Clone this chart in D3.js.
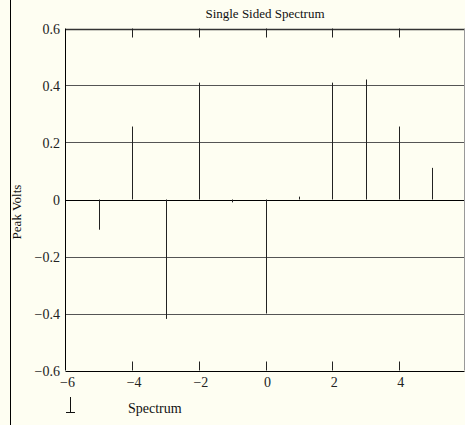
<!DOCTYPE html>
<html><head><meta charset="utf-8">
<script src="https://cdn.jsdelivr.net/npm/d3@7"></script>
<style>html,body{margin:0;padding:0;background:#fefef2;}svg{display:block;}</style>
</head><body>
<script>
const freqs = [-5, -4, -3, -2, -1, 0, 1, 2, 3, 4, 5];
const volts = [-0.106, 0.256, -0.419, 0.41, -0.01, -0.40, 0.01, 0.41, 0.421, 0.256, 0.111];
const xTicks = [-6, -4, -2, 0, 2, 4];
const yTicks = [-0.6, -0.4, -0.2, 0, 0.2, 0.4, 0.6];
const title = "Single Sided Spectrum";
const yLabel = "Peak Volts";
const legendLabel = "Spectrum";

const W = 465, H = 425;
const font = "Liberation Serif, DejaVu Serif, serif";
const svg = d3.select("body").append("svg").attr("width", W).attr("height", H);
svg.append("rect").attr("width", W).attr("height", H).attr("fill", "#fefef2");

const L = 65.5, R = 464.5, T = 28.5, B = 370.5;
const x = d3.scaleLinear().domain([-6, 6]).range([L, 465.5]);
const y = d3.scaleLinear().domain([-0.6, 0.6]).range([B, T]);
const fmt = v => (v < 0 ? "\u2212" : "") + (Math.abs(v) === 0 ? "0" : (Number.isInteger(v) ? Math.abs(v) : Math.abs(v).toFixed(1)));

// left frame line
svg.append("line").attr("x1", 10.5).attr("x2", 10.5).attr("y1", 0).attr("y2", H).attr("stroke", "#000");

// grid lines
svg.append("g").selectAll("line").data(yTicks).join("line")
  .attr("x1", L).attr("x2", R)
  .attr("y1", d => Math.round(y(d)) + 0.5).attr("y2", d => Math.round(y(d)) + 0.5)
  .attr("stroke", d => (d === 0 || d === -0.6) ? "#000" : (d === 0.6 ? "#333" : "#555"))
  .attr("stroke-width", d => d === 0.6 ? 1.5 : 1);

// right edge
svg.append("line").attr("x1", R).attr("x2", R).attr("y1", T).attr("y2", B).attr("stroke", "#999");
// left axis line
svg.append("line").attr("x1", L).attr("x2", L).attr("y1", T).attr("y2", B).attr("stroke", "#000");

// x ticks (top and bottom)
const tk = xTicks.filter(d => d !== -6);
svg.append("g").selectAll("line").data(tk).join("line")
  .attr("x1", d => Math.round(x(d)) + 0.5).attr("x2", d => Math.round(x(d)) + 0.5)
  .attr("y1", T).attr("y2", T + 9).attr("stroke", "#222");
svg.append("g").selectAll("line").data(tk).join("line")
  .attr("x1", d => Math.round(x(d)) + 0.5).attr("x2", d => Math.round(x(d)) + 0.5)
  .attr("y1", B).attr("y2", B - 9).attr("stroke", "#222");

// stems
svg.append("g").selectAll("line").data(freqs).join("line")
  .attr("x1", d => Math.round(x(d)) + 0.5).attr("x2", d => Math.round(x(d)) + 0.5)
  .attr("y1", y(0)).attr("y2", (d, i) => y(volts[i]))
  .attr("stroke", "#222").attr("stroke-width", 1);

// y tick labels
svg.append("g").selectAll("text").data(yTicks).join("text")
  .attr("x", 60).attr("y", d => y(d) + 5)
  .attr("text-anchor", "end").attr("font-family", font).attr("font-size", 14)
  .attr("fill", "#222").text(fmt);

// x tick labels
svg.append("g").selectAll("text").data(xTicks).join("text")
  .attr("x", d => x(d) + 2).attr("y", 387)
  .attr("text-anchor", "middle").attr("font-family", font).attr("font-size", 14)
  .attr("fill", "#222").text(fmt);

// title
svg.append("text").attr("x", 265).attr("y", 18).attr("text-anchor", "middle")
  .attr("font-family", font).attr("font-size", 13).attr("fill", "#111").text(title);

// y label
svg.append("text").attr("transform", "translate(21,212) rotate(-90)")
  .attr("text-anchor", "middle").attr("font-family", font).attr("font-size", 13)
  .attr("fill", "#111").text(yLabel);

// legend
svg.append("line").attr("x1", 70.5).attr("x2", 70.5).attr("y1", 397).attr("y2", 412).attr("stroke", "#111");
svg.append("line").attr("x1", 66).attr("x2", 75).attr("y1", 412.5).attr("y2", 412.5).attr("stroke", "#111");
svg.append("text").attr("x", 128).attr("y", 413).attr("font-family", font).attr("font-size", 14)
  .attr("fill", "#111").text(legendLabel);
</script>
</body></html>
